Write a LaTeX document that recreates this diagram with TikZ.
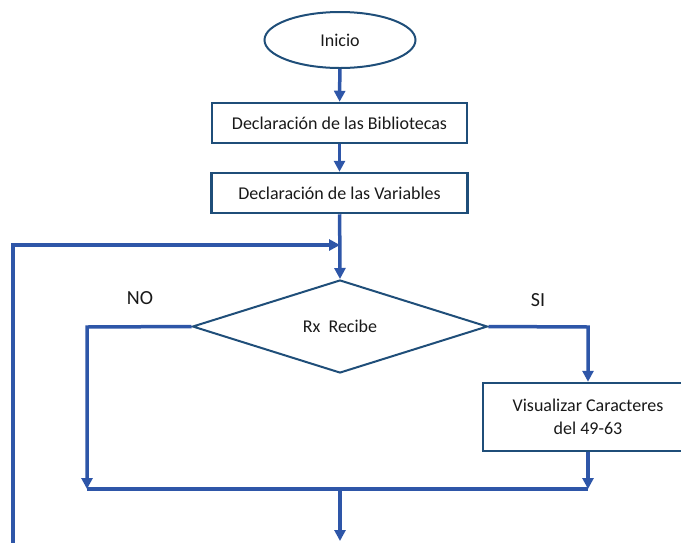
\documentclass[tikz,border=0pt]{standalone}
\usepackage{fontspec}
\setmainfont{Carlito}
\usetikzlibrary{arrows.meta,shapes.geometric}
\definecolor{flowline}{HTML}{2E56A8}
\definecolor{boxline}{HTML}{1F4E79}
\tikzset{
  x=1pt, y=-1pt,
  every node/.style={font=\fontsize{18}{22}\selectfont, text=black!90},
  startnode/.style={ellipse, draw=boxline, line width=2pt, minimum width=151pt, minimum height=56pt, inner sep=0pt},
  procbox/.style={rectangle, draw=boxline, line width=2.5pt, inner sep=0pt, align=center},
  decision/.style={diamond, draw=boxline, line width=2pt, minimum width=295pt, minimum height=93pt, aspect=3.17, inner sep=0pt},
  flow/.style={draw=flowline, line width=3.5pt, -{Triangle[length=11pt,width=11pt]}},
  plainflow/.style={draw=flowline, line width=3.5pt},
  branchlabel/.style={font=\fontsize{20}{24}\selectfont}
}
\begin{document}
\begin{tikzpicture}
\useasboundingbox (0,0) rectangle (681,542);
\clip (0,0) rectangle (681,542);

% nodes of the flowchart
\node[startnode] (inicio) at (340,40) {Inicio};
\node[procbox, minimum width=255pt, minimum height=40pt] (bib) at (339.5,123) {Declaración de las Bibliotecas};
\node[procbox, minimum width=256pt, minimum height=40pt] (var) at (339.5,193) {Declaración de las Variables};
\node[decision] (rx) at (340,326.5) {Rx\ \ Recibe};
\node[procbox, minimum width=210pt, minimum height=68pt] (vis) at (588,417) {Visualizar Caracteres\\[1pt]del 49-63};

\node[branchlabel] (no) at (140,298) {NO};
\node[branchlabel] (si) at (538,300) {SI};

% junction points
\coordinate (loopin) at (340,245);
\coordinate (nocorner) at (87,327);
\coordinate (nojoin) at (87,489);
\coordinate (sicorner) at (588,327);
\coordinate (sijoin) at (588,489);
\coordinate (merge) at (340,489);
\coordinate (exit) at (340,541);
\coordinate (loopbot) at (340,544.5);
\coordinate (loopleft) at (13,544.5);
\coordinate (looptop) at (13,245);

% connectors
\draw[flow] (inicio) -- (bib);
\draw[flow] (bib) -- (var);
\draw[flow] (var) -- (rx.north);
\draw[flow] (rx.west) -- (nocorner) -- (nojoin);
\draw[flow] (rx.east) -- (sicorner) -- (vis.north);
\draw[flow] (vis.south) -- (sijoin);
\draw[plainflow] (nojoin) -- (sijoin);
\draw[flow] (merge) -- (exit);
\draw[flow] (loopbot) -- (loopleft) -- (looptop) -- (loopin);
\end{tikzpicture}
\end{document}
